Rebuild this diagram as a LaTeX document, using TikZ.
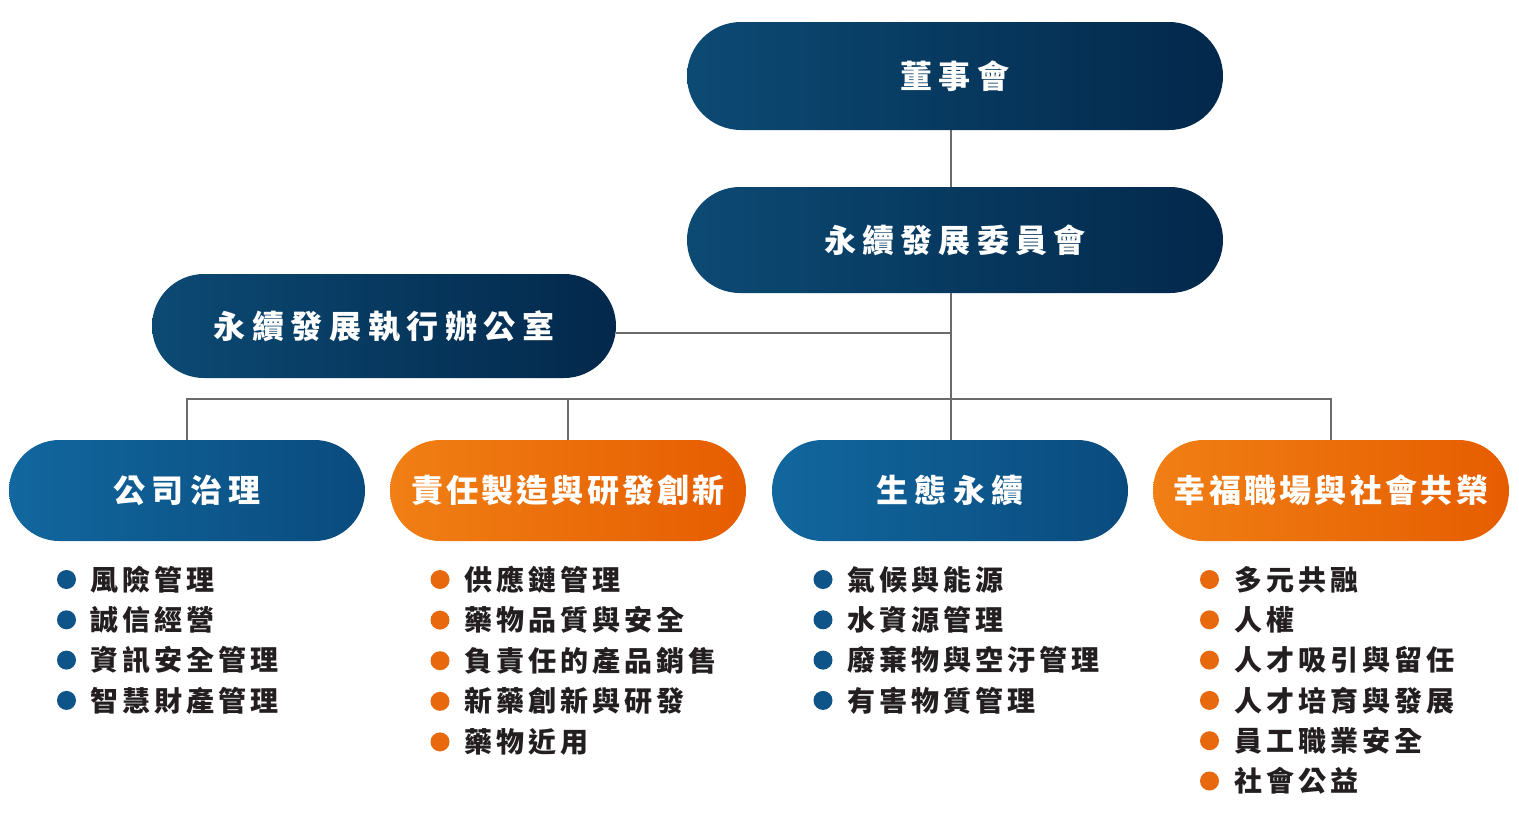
\documentclass[tikz,border=0pt]{standalone}
\usepackage{fontspec}
\newfontfamily\cjk{Noto Sans CJK TC}
\definecolor{navyL}{HTML}{0C4A74}
\definecolor{navyR}{HTML}{03284B}
\definecolor{blueL}{HTML}{11679E}
\definecolor{blueR}{HTML}{0A4B7E}
\definecolor{orangeL}{HTML}{F07F15}
\definecolor{orangeR}{HTML}{E65D00}
\definecolor{dotblue}{HTML}{0F5488}
\definecolor{dotorange}{HTML}{E8680E}
\definecolor{textc}{HTML}{231F20}
\definecolor{linec}{HTML}{6B6B6B}
% letter spacing between characters
\def\trk#1#2{\def\trkamt{#1}\expandafter\trkfirst#2\relax}
\def\trkfirst#1{#1\trkrest}
\def\trkrest#1{\ifx#1\relax\else\kern\trkamt #1\expandafter\trkrest\fi}
\tikzset{
  pill/.style={rectangle, rounded corners=#1, inner sep=0pt, text=white,
    font=\cjk\bfseries\fontsize{32}{32}\selectfont},
  navyfill/.style={left color=navyL, right color=navyR},
  bluefill/.style={left color=blueL, right color=blueR},
  orangefill/.style={left color=orangeL, right color=orangeR},
  conn/.style={draw=linec, line width=1.6pt},
  dot/.style={circle, inner sep=0pt, minimum size=19pt},
  item/.style={anchor=west, inner sep=0pt, text=textc,
    font=\cjk\bfseries\fontsize{28}{28}\selectfont},
}
\begin{document}
\begin{tikzpicture}[x=1pt,y=1pt]
\useasboundingbox (0,0) rectangle (1519,-822);
\fill[white] (0,0) rectangle (1519,-822);

\coordinate (bus) at (951,-399);

% boxes
\node[pill=54pt, navyfill, minimum width=536pt, minimum height=108pt] (board) at (955,-76) {\trk{6.8pt}{董事會}};
\node[pill=53pt, navyfill, minimum width=536pt, minimum height=106pt] (comm) at (955,-240) {\trk{6.1pt}{永續發展委員會}};
\node[pill=52pt, navyfill, minimum width=464pt, minimum height=104pt] (office) at (384,-326) {\trk{6.6pt}{永續發展執行辦公室}};

\node[pill=50.5pt, bluefill, minimum width=356pt, minimum height=101pt] (g1) at (187,-490.5) {\trk{6.5pt}{公司治理}};
\node[pill=50.5pt, orangefill, minimum width=356pt, minimum height=101pt] (g2) at (568,-490.5) {\trk{3.1pt}{責任製造與研發創新}};
\node[pill=50.5pt, bluefill, minimum width=356pt, minimum height=101pt] (g3) at (950,-490.5) {\trk{6.5pt}{生態永續}};
\node[pill=50.5pt, orangefill, minimum width=356pt, minimum height=101pt] (g4) at (1331,-490.5) {\trk{3.3pt}{幸福職場與社會共榮}};

% connectors
\draw[conn] (board.south -| bus) -- (comm.north -| bus);
\draw[conn] (comm.south -| bus) -- (g3.north -| bus);
\draw[conn] ([yshift=-7pt]office.east) -- ([yshift=-7pt]office.east -| bus);
\draw[conn] (g1.north) |- (bus) -| (g4.north);
\draw[conn] (g2.north) -- (g2.north |- bus);

% lists
\foreach \t [count=\i] in {風險管理,誠信經營,資訊安全管理,智慧財產管理}{
  \node[dot, fill=dotblue] (da\i) at (66.5,-579.5-40.3*\i+40.3) {};
  \node[item] (ta\i) at (90.5,-579.5-40.3*\i+40.3) {\trk{4pt}{\t}};
}
\foreach \t [count=\i] in {供應鏈管理,藥物品質與安全,負責任的產品銷售,新藥創新與研發,藥物近用}{
  \node[dot, fill=dotorange] (db\i) at (440,-579.5-40.6*\i+40.6) {};
  \node[item] (tb\i) at (464.5,-579.5-40.6*\i+40.6) {\trk{4pt}{\t}};
}
\foreach \t [count=\i] in {氣候與能源,水資源管理,廢棄物與空汙管理,有害物質管理}{
  \node[dot, fill=dotblue] (dc\i) at (823,-579.5-40.3*\i+40.3) {};
  \node[item] (tc\i) at (847,-579.5-40.3*\i+40.3) {\trk{4pt}{\t}};
}
\foreach \t [count=\i] in {多元共融,人權,人才吸引與留任,人才培育與發展,員工職業安全,社會公益}{
  \node[dot, fill=dotorange] (dd\i) at (1209.5,-579.5-40.3*\i+40.3) {};
  \node[item] (td\i) at (1234,-579.5-40.3*\i+40.3) {\trk{4pt}{\t}};
}
\end{tikzpicture}
\end{document}
